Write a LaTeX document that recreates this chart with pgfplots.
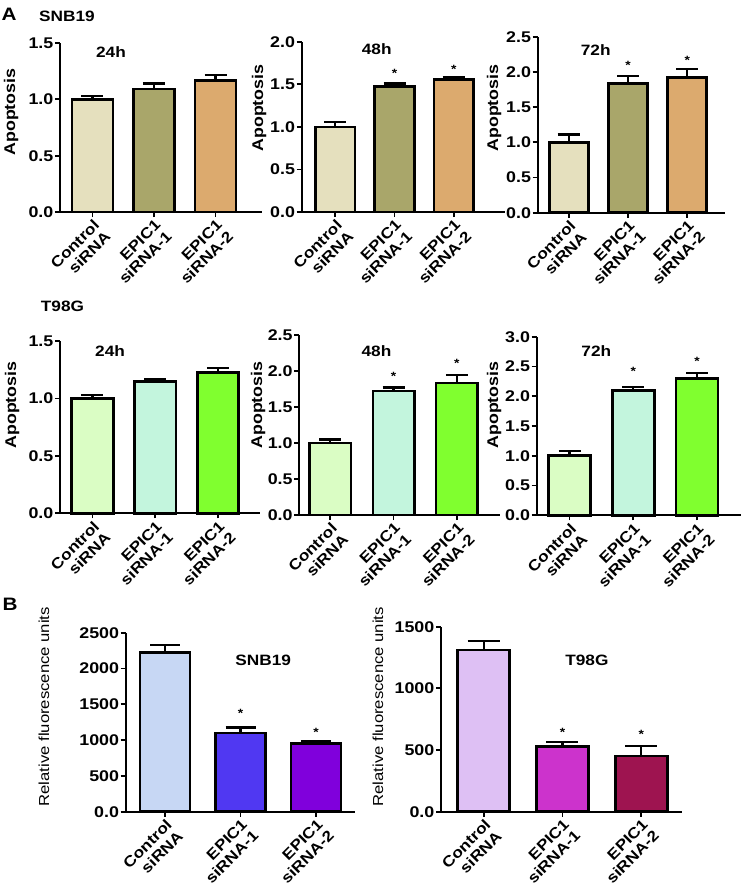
\documentclass[border=0pt]{standalone}
\usepackage{fontspec}
\setmainfont[FakeStretch=1.15]{Liberation Sans}
\usepackage{pgfplots}
\pgfplotsset{compat=1.18}
\definecolor{a1}{HTML}{E5E0BE}
\definecolor{a2}{HTML}{A9A66A}
\definecolor{a3}{HTML}{DCAA6E}
\definecolor{b1}{HTML}{DAFDC4}
\definecolor{b2}{HTML}{C3F5DD}
\definecolor{b3}{HTML}{80FF2F}
\definecolor{e1}{HTML}{C7D7F4}
\definecolor{e2}{HTML}{5038F2}
\definecolor{e3}{HTML}{8000DC}
\definecolor{f1}{HTML}{DEC0F4}
\definecolor{f2}{HTML}{CC33CC}
\definecolor{f3}{HTML}{9E1450}
\newcommand\tickfont{\bfseries\fontsize{15.5}{15.5}\selectfont}
\newcommand\catfont{\bfseries\fontsize{15}{16}\selectfont}
\newcommand\labfont{\bfseries\fontsize{15.5}{15.5}\selectfont}
\newcommand\titfont{\bfseries\fontsize{15}{15}\selectfont}
\tikzset{sstar/.style={font=\bfseries\fontsize{12}{12}\selectfont}}
\pgfplotsset{
  gp/.style={scale only axis, anchor=south west,
    axis x line*=bottom, axis y line*=left,
    axis line style={line width=2pt,-},
    ymin=0, tick align=outside, major tick length=5pt,
    tick style={line width=1.8pt,black},
    xtick={0,1,2},
    xticklabels={Control\\siRNA,EPIC1\\siRNA-1,EPIC1\\siRNA-2},
    xticklabel style={rotate=45, anchor=north east, align=right, font=\catfont, inner sep=1pt},
    yticklabel style={font=\tickfont, inner sep=1.5pt},
    clip=false, enlarge x limits=false, enlarge y limits=false},
  gb/.style 2 args={ybar, bar shift=0pt, draw=black, line width=2.6pt, fill=#1,
    error bars/.cd, y dir=plus, y explicit, error mark=|,
    error bar style={line width=2.2pt, black},
    error mark options={line width=2.2pt, black, mark size=#2}}
}
\begin{document}
\begin{tikzpicture}
\path[use as bounding box] (0,0) rectangle (744pt,-895pt);
% ---------- A, SNB19 ----------
\begin{axis}[gp, at={(60pt,-212pt)}, width=202pt, height=169pt,
  xmin=-0.528, xmax=2.756, ymax=1.5, bar width=41pt,
  ytick={0,0.5,1,1.5}, yticklabels={0.0,0.5,1.0,1.5}]
\addplot[gb={a1}{11pt}] coordinates {(0,1.00) +- (0,0.03)};
\addplot[gb={a2}{11pt}] coordinates {(1,1.09) +- (0,0.05)};
\addplot[gb={a3}{11pt}] coordinates {(2,1.165) +- (0,0.05)};
\node[font=\titfont] at (axis cs:0.3,1.42) {24h};
\end{axis}
\begin{axis}[gp, at={(301.7pt,-212pt)}, width=203.3pt, height=170.3pt,
  xmin=-0.568, xmax=2.867, ymax=2.0, bar width=39.5pt,
  ytick={0,0.5,1,1.5,2}, yticklabels={0.0,0.5,1.0,1.5,2.0}]
\addplot[gb={a1}{11pt}] coordinates {(0,1.00) +- (0,0.06)};
\addplot[gb={a2}{11pt}] coordinates {(1,1.475) +- (0,0.035)};
\addplot[gb={a3}{11pt}] coordinates {(2,1.557) +- (0,0.025)};
\node[font=\titfont] at (axis cs:0.7,1.91) {48h};
\node[sstar] at (axis cs:1,1.63) {*};
\node[sstar] at (axis cs:2,1.675) {*};
\end{axis}
\begin{axis}[gp, at={(537.7pt,-212.7pt)}, width=187.3pt, height=176pt,
  xmin=-0.523, xmax=2.636, ymax=2.5, bar width=39pt,
  ytick={0,0.5,1,1.5,2,2.5}, yticklabels={0.0,0.5,1.0,1.5,2.0,2.5}]
\addplot[gb={a1}{11pt}] coordinates {(0,1.00) +- (0,0.11)};
\addplot[gb={a2}{11pt}] coordinates {(1,1.838) +- (0,0.10)};
\addplot[gb={a3}{11pt}] coordinates {(2,1.923) +- (0,0.115)};
\node[font=\titfont] at (axis cs:0.455,2.31) {72h};
\node[sstar] at (axis cs:1,2.09) {*};
\node[sstar] at (axis cs:2,2.16) {*};
\end{axis}
% ---------- A, T98G ----------
\begin{axis}[gp, at={(60pt,-513.3pt)}, width=200pt, height=172.3pt,
  xmin=-0.518, xmax=2.67, ymax=1.5, bar width=41.5pt,
  ytick={0,0.5,1,1.5}, yticklabels={0.0,0.5,1.0,1.5}]
\addplot[gb={b1}{11pt}] coordinates {(0,1.00) +- (0,0.03)};
\addplot[gb={b2}{11pt}] coordinates {(1,1.146) +- (0,0.025)};
\addplot[gb={b3}{11pt}] coordinates {(2,1.227) +- (0,0.035)};
\node[font=\titfont] at (axis cs:0.28,1.415) {24h};
\end{axis}
\begin{axis}[gp, at={(299.3pt,-515pt)}, width=200.7pt, height=180pt,
  xmin=-0.488, xmax=2.68, ymax=2.5, bar width=41.5pt,
  ytick={0,0.5,1,1.5,2,2.5}, yticklabels={0.0,0.5,1.0,1.5,2.0,2.5}]
\addplot[gb={b1}{11pt}] coordinates {(0,1.00) +- (0,0.05)};
\addplot[gb={b2}{11pt}] coordinates {(1,1.722) +- (0,0.05)};
\addplot[gb={b3}{11pt}] coordinates {(2,1.833) +- (0,0.11)};
\node[font=\titfont] at (axis cs:0.73,2.28) {48h};
\node[sstar] at (axis cs:1,1.92) {*};
\node[sstar] at (axis cs:2,2.11) {*};
\end{axis}
\begin{axis}[gp, at={(536.7pt,-515.3pt)}, width=204.3pt, height=178.6pt,
  xmin=-0.515, xmax=2.69, ymax=3.0, bar width=42pt,
  ytick={0,0.5,1,1.5,2,2.5,3}, yticklabels={0.0,0.5,1.0,1.5,2.0,2.5,3.0}]
\addplot[gb={b1}{11pt}] coordinates {(0,1.00) +- (0,0.08)};
\addplot[gb={b2}{11pt}] coordinates {(1,2.10) +- (0,0.06)};
\addplot[gb={b3}{11pt}] coordinates {(2,2.296) +- (0,0.09)};
\node[font=\titfont] at (axis cs:0.42,2.76) {72h};
\node[sstar] at (axis cs:1,2.42) {*};
\node[sstar] at (axis cs:2,2.59) {*};
\end{axis}
% ---------- B ----------
\begin{axis}[gp, at={(125.7pt,-811.7pt)}, width=229pt, height=179pt,
  xmin=-0.52, xmax=2.51, ymax=2500, bar width=50pt,
  ytick={0,500,1000,1500,2000,2500}, yticklabels={0.0,500,1000,1500,2000,2500}]
\addplot[gb={e1}{15pt}] coordinates {(0,2222) +- (0,103)};
\addplot[gb={e2}{15pt}] coordinates {(1,1099) +- (0,78)};
\addplot[gb={e3}{15pt}] coordinates {(2,950) +- (0,32)};
\node[font=\titfont] at (axis cs:1.30,2109) {SNB19};
\node[sstar] at (axis cs:1,1380) {*};
\node[sstar] at (axis cs:2,1115) {*};
\end{axis}
\begin{axis}[gp, at={(441pt,-811.7pt)}, width=240.7pt, height=185pt,
  xmin=-0.542, xmax=2.513, ymax=1500, bar width=52pt,
  ytick={0,500,1000,1500}, yticklabels={0.0,500,1000,1500}]
\addplot[gb={f1}{16pt}] coordinates {(0,1310) +- (0,76)};
\addplot[gb={f2}{16pt}] coordinates {(1,530) +- (0,35)};
\addplot[gb={f3}{16pt}] coordinates {(2,452) +- (0,81)};
\node[font=\titfont] at (axis cs:1.31,1230) {T98G};
\node[sstar] at (axis cs:1,645) {*};
\node[sstar] at (axis cs:2,630) {*};
\end{axis}
% ---------- labels ----------
\node[font=\bfseries\fontsize{18}{18}\selectfont] at (9pt,-14.5pt) {A};
\node[font=\bfseries\fontsize{15}{15}\selectfont] at (67pt,-16.7pt) {SNB19};
\node[font=\bfseries\fontsize{15}{15}\selectfont] at (62.5pt,-306.7pt) {T98G};
\node[font=\bfseries\fontsize{18}{18}\selectfont] at (10pt,-604pt) {B};
\node[rotate=90, font=\labfont] at (11pt,-112pt) {Apoptosis};
\node[rotate=90, font=\labfont] at (259pt,-108pt) {Apoptosis};
\node[rotate=90, font=\labfont] at (494pt,-108pt) {Apoptosis};
\node[rotate=90, font=\labfont] at (12pt,-405pt) {Apoptosis};
\node[rotate=90, font=\labfont] at (258pt,-405pt) {Apoptosis};
\node[rotate=90, font=\labfont] at (494pt,-405pt) {Apoptosis};
\node[rotate=90, font=\fontsize{14.5}{14.5}\selectfont] at (44pt,-706.7pt) {Relative fluorescence units};
\node[rotate=90, font=\fontsize{14.5}{14.5}\selectfont] at (378pt,-706.7pt) {Relative fluorescence units};
\end{tikzpicture}
\end{document}
